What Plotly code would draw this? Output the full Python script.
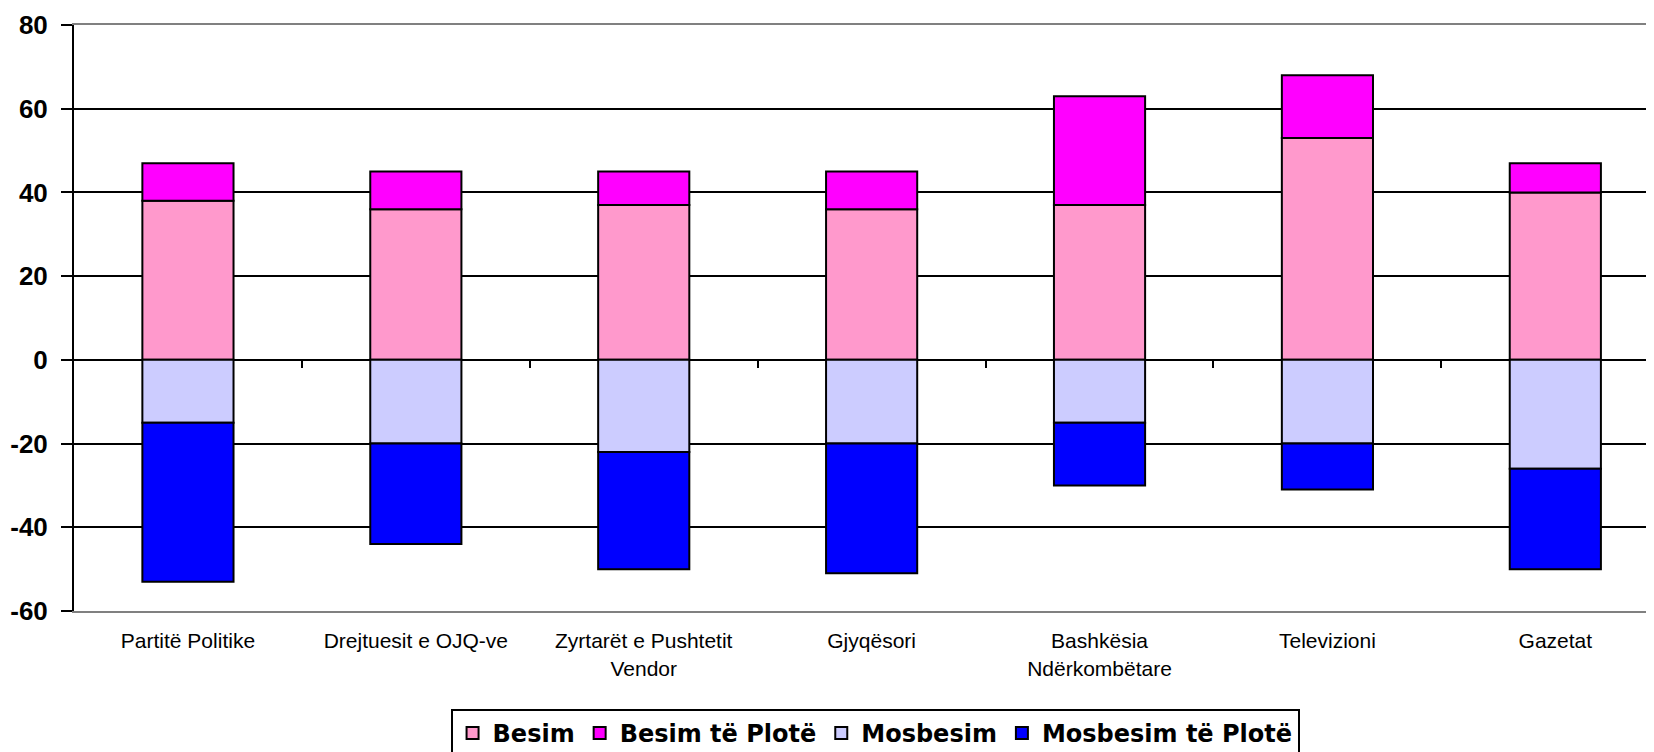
import plotly.graph_objects as go

categories = ["Partitë Politike", "Drejtuesit e OJQ-ve", "Zyrtarët e Pushtetit Vendor",
              "Gjyqësori", "Bashkësia Ndërkombëtare", "Televizioni", "Gazetat"]
tick_labels = ["Partitë Politike", "Drejtuesit e OJQ-ve", "Zyrtarët e Pushtetit<br>Vendor",
               "Gjyqësori", "Bashkësia<br>Ndërkombëtare", "Televizioni", "Gazetat"]

besim = [38, 36, 37, 36, 37, 53, 40]
besim_plote = [9, 9, 8, 9, 26, 15, 7]
mosbesim = [-15, -20, -22, -20, -15, -20, -26]
mosbesim_plote = [-38, -24, -28, -31, -15, -11, -24]

y_ticks = [-60, -40, -20, 0, 20, 40, 60, 80]
y_tick_text = [str(v) for v in y_ticks]

series = [
    ("Besim", besim, "#FF99CC"),
    ("Besim të Plotë", besim_plote, "#FF00FF"),
    ("Mosbesim", mosbesim, "#CCCCFF"),
    ("Mosbesim të Plotë", mosbesim_plote, "#0000FF"),
]

x_idx = list(range(len(categories)))

fig = go.Figure()
for name, vals, color in series:
    fig.add_trace(go.Bar(
        x=x_idx, y=vals, name=name,
        marker=dict(color=color, line=dict(color="black", width=2)),
    ))

# helper trace so the zero-line tick axis is drawn
fig.add_trace(go.Scatter(x=[], y=[], xaxis="x2", yaxis="y", showlegend=False, hoverinfo="skip"))

FONT = "Liberation Sans, Arial, sans-serif"
xr = [-0.5, 6.433]
# page body has an 8px margin, so the figure is 16px smaller than the window
W, H = 1646, 744
fig.update_layout(
    width=W, height=H,
    margin=dict(l=66, r=0, t=17, b=141, autoexpand=False),
    paper_bgcolor="white", plot_bgcolor="white",
    barmode="relative", bargap=0.6,
    font=dict(family=FONT, color="black"),
    xaxis=dict(
        range=xr, tickmode="array", tickvals=x_idx, ticktext=tick_labels,
        tickfont=dict(size=21), showgrid=False, zeroline=False,
        showline=True, linecolor="#808080", linewidth=2, mirror=True,
        ticks="", ticklabelstandoff=10, automargin=False,
    ),
    xaxis2=dict(
        overlaying="x", anchor="free", position=60 / 140, side="bottom",
        range=xr, tickmode="array", tickvals=[0.5, 1.5, 2.5, 3.5, 4.5, 5.5],
        ticks="outside", ticklen=7, tickwidth=2, tickcolor="black",
        showticklabels=False, showgrid=False, zeroline=False, showline=False,
        automargin=False,
    ),
    yaxis=dict(
        range=[-60, 80], tickmode="array", tickvals=y_ticks, ticktext=y_tick_text,
        tickfont=dict(size=26, family=FONT, weight="bold"),
        showgrid=True, gridcolor="black", gridwidth=2,
        zeroline=True, zerolinecolor="black", zerolinewidth=2,
        showline=True, linecolor="black", linewidth=2,
        ticks="outside", ticklen=11, tickwidth=2, tickcolor="black",
        ticklabelstandoff=8, automargin=False,
    ),
    legend=dict(
        orientation="h", xanchor="center", x=0.507, yanchor="top",
        yref="container", y=1 - 701 / H,
        bordercolor="black", borderwidth=2, bgcolor="white",
        font=dict(size=24, family="DejaVu Sans, Liberation Sans, sans-serif", weight="bold"),
        traceorder="normal", itemwidth=30, tracegroupgap=0,
    ),
    showlegend=True,
)

fig.write_html("out.html")
